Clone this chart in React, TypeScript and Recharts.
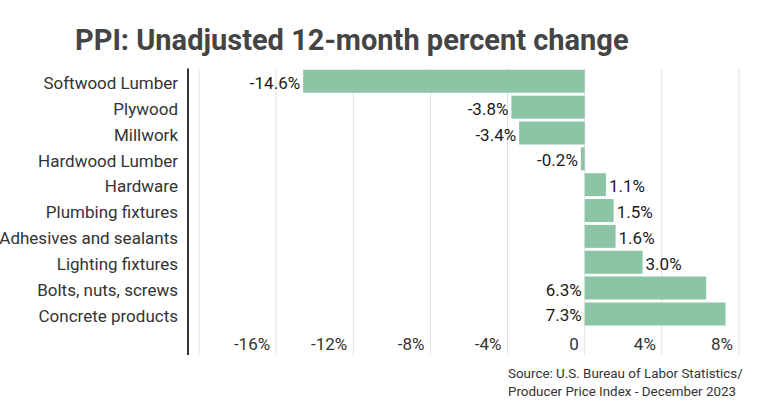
import React from 'react';
import { BarChart, Bar, XAxis, YAxis, CartesianGrid, LabelList } from 'recharts';

const categories = [
  'Softwood Lumber',
  'Plywood',
  'Millwork',
  'Hardwood Lumber',
  'Hardware',
  'Plumbing fixtures',
  'Adhesives and sealants',
  'Lighting fixtures',
  'Bolts, nuts, screws',
  'Concrete products',
];
const changes = [-14.6, -3.8, -3.4, -0.2, 1.1, 1.5, 1.6, 3.0, 6.3, 7.3];
const xTicks = [-20, -16, -12, -8, -4, 0, 4, 8];
const xDomain = [-20, 8];

const titleText = 'PPI: Unadjusted 12-month percent change';
const sourceLines = ['Source: U.S. Bureau of Labor Statistics/', 'Producer Price Index - December 2023'];

const data = categories.map((name, i) => ({ name, value: changes[i] }));

const FONT = 'Roboto, "Noto Sans", Arial, sans-serif';

const formatTick = (v: number) => (v === -20 ? '' : v === 0 ? '0' : `${v}%`);

const XTick = (props: any) => {
  const { x, y, payload } = props;
  const label = formatTick(payload.value);
  if (!label) return null;
  return (
    <text
      x={x - 6}
      y={y - 19}
      dy="0.355em"
      textAnchor="end"
      fontFamily={FONT}
      fontSize={17}
      fill="#333"
    >
      {label}
    </text>
  );
};

const YTick = (props: any) => {
  const { x, y, payload } = props;
  return (
    <text
      x={x}
      y={y + 1.5}
      dy="0.355em"
      textAnchor="end"
      fontFamily={FONT}
      fontSize={17}
      fill="#333"
    >
      {payload.value}
    </text>
  );
};

const ValueLabel = (props: any) => {
  const { x, y, width, height, value } = props;
  const left = Math.min(x, x + width);
  const right = Math.max(x, x + width);
  const before = value < 0 || value > 5;
  return (
    <text
      x={before ? left - 3 : right + 3}
      y={y + height / 2 + 1.5}
      dy="0.355em"
      textAnchor={before ? 'end' : 'start'}
      fontFamily={FONT}
      fontSize={17}
      fill="#1a1a1a"
    >
      {`${Number(value).toFixed(1)}%`}
    </text>
  );
};

export default function App() {
  return (
    <div style={{ position: 'relative', width: 760, height: 417, background: '#fff', overflow: 'hidden' }}>
      <style>{'body{margin:0;}'}</style>
      <div
        style={{
          position: 'absolute',
          left: 75,
          top: 25.5,
          fontFamily: FONT,
          fontWeight: 700,
          fontSize: 29,
          lineHeight: 1,
          color: '#444',
          whiteSpace: 'nowrap',
        }}
      >
        {titleText}
      </div>
      <div style={{ position: 'absolute', left: 0, top: 0 }}>
        <BarChart
          width={760}
          height={417}
          data={data}
          layout="vertical"
          margin={{ top: 68.5, right: 21, bottom: 32, left: 0 }}
          barCategoryGap="5%"
        >
          <CartesianGrid horizontal={false} stroke="#e1e1e1" strokeWidth={1} />
          <XAxis
            type="number"
            domain={xDomain}
            ticks={xTicks}
            allowDataOverflow
            axisLine={false}
            tickLine={false}
            height={30}
            padding={{ left: 11, right: 0 }}
            tick={<XTick />}
          />
          <YAxis
            type="category"
            dataKey="name"
            width={188}
            padding={{ top: 0, bottom: 28 }}
            axisLine={{ stroke: '#333', strokeWidth: 2 }}
            tickLine={false}
            tickMargin={4}
            interval={0}
            tick={<YTick />}
          />
          <Bar dataKey="value" fill="#8cc4a6" isAnimationActive={false}>
            <LabelList dataKey="value" content={<ValueLabel />} />
          </Bar>
        </BarChart>
      </div>
      <div
        style={{
          position: 'absolute',
          left: 508,
          top: 364.5,
          fontFamily: FONT,
          fontSize: 13.4,
          lineHeight: '18px',
          color: '#333',
          whiteSpace: 'nowrap',
        }}
      >
        {sourceLines.map((l) => (
          <div key={l}>{l}</div>
        ))}
      </div>
    </div>
  );
}
